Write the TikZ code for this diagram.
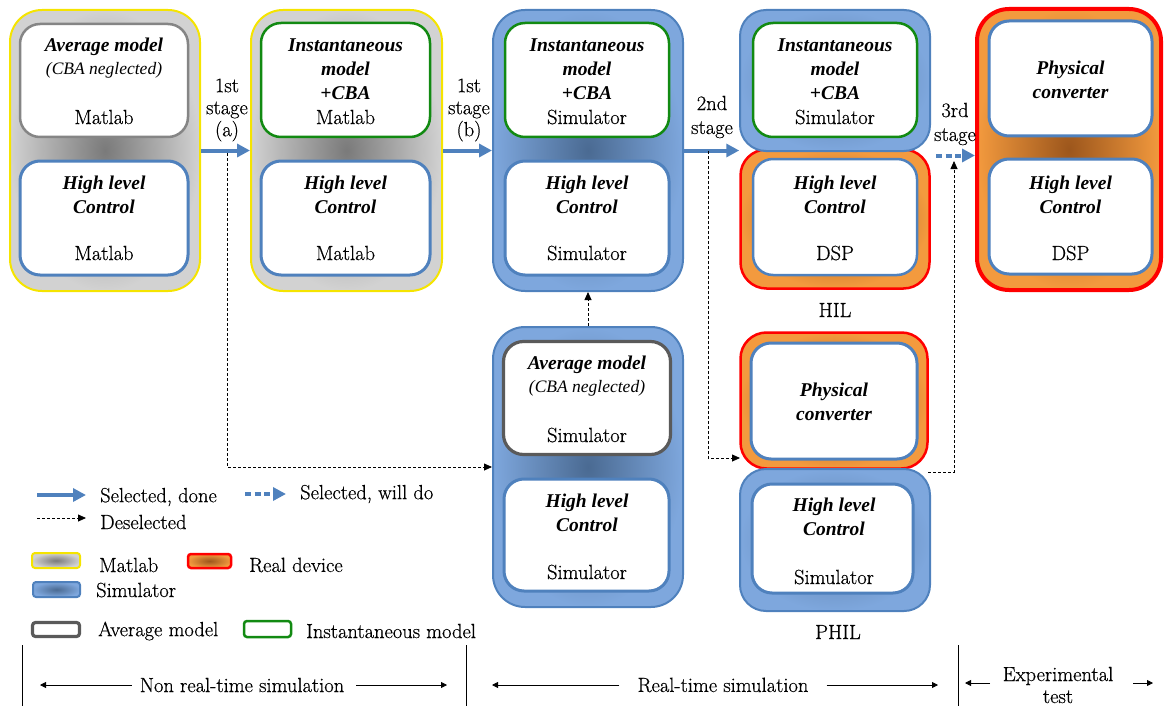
\documentclass[tikz,border=0pt]{standalone}
\usepackage{fontspec}
\usetikzlibrary{arrows.meta,calc}
\newfontfamily\tnr{Liberation Serif}
\newfontfamily\lmr{Latin Modern Roman}[FakeBold=0.5]
\definecolor{myyellow}{HTML}{F5E400}
\definecolor{mgrayc}{HTML}{7A7A7A}
\definecolor{mgraye}{HTML}{D2D2D2}
\definecolor{sblue}{HTML}{4F81BD}
\definecolor{sbluec}{HTML}{4A6A92}
\definecolor{sbluee}{HTML}{7EA7DD}
\definecolor{orc}{HTML}{9C561C}
\definecolor{ore}{HTML}{F39A3E}
\definecolor{mygreen}{HTML}{128A12}
\definecolor{agray}{HTML}{5A5A5A}
\definecolor{agrayl}{HTML}{858585}
\newcommand\bitxt{\tnr\bfseries\itshape\fontsize{19.5}{24}\selectfont}
\newcommand\ittxt{\tnr\itshape\fontsize{17.5}{20}\selectfont}
\newcommand\rgtxt{\lmr\fontsize{20.5}{22}\selectfont}
\newcommand\rgtxtw{\lmr\fontsize{20.5}{24}\selectfont}
\newcommand\lgtxt{\lmr\fontsize{20.5}{22}\selectfont}
\tikzset{
  grpbase/.style={inner sep=0pt, line width=2pt},
  matgrp/.style={grpbase, draw=myyellow, rounded corners=32pt, inner color=mgrayc, outer color=mgraye},
  simgrp/.style={grpbase, draw=sblue, rounded corners=32pt, inner color=sbluec, outer color=sbluee},
  simsub/.style={grpbase, draw=sblue, rounded corners=26pt, inner color=sbluec!70!sbluee, outer color=sbluee},
  realgrp/.style={grpbase, draw=red, line width=2.5pt, rounded corners=26pt, inner color=orc, outer color=ore},
  realbig/.style={grpbase, draw=red, line width=4pt, rounded corners=32pt, inner color=orc, outer color=ore},
  inbox/.style={inner sep=0pt, fill=white, line width=2.5pt, rounded corners=20pt},
  avgl/.style={inbox, draw=agrayl},
  avgd/.style={inbox, draw=agray, line width=3.2pt},
  inst/.style={inbox, draw=mygreen},
  ctrl/.style={inbox, draw=sblue, line width=3pt},
  bt/.style={font=\bitxt, align=center, inner sep=0pt},
  itt/.style={font=\ittxt, inner sep=0pt},
  rt/.style={font=\rgtxt, align=center, inner sep=0pt},
  rtw/.style={font=\rgtxtw, align=center, inner sep=0pt},
  lt/.style={font=\lgtxt, anchor=west, inner sep=0pt},
  sel/.style={draw=sblue, line width=4pt, -{Triangle[length=13pt,width=13pt]}},
  seldot/.style={draw=sblue, line width=4pt, dash pattern=on 6pt off 3.5pt, -{Triangle[length=13pt,width=13pt]}},
  desel/.style={draw=black, line width=0.8pt, dash pattern=on 3pt off 2pt, -{Triangle[length=8pt,width=7pt]}},
  axarr/.style={draw=black, line width=0.8pt, -{Triangle[length=6pt,width=6pt]}},
}
\begin{document}
\begin{tikzpicture}[x=1pt,y=-1pt]
\useasboundingbox (0,0) rectangle (1164,706);

% ---------- group 1: Matlab, average model
\node[matgrp, minimum width=190, minimum height=281] (g1) at (105,150.5) {};
\node[avgl, minimum width=168, minimum height=113] (g1a) at (104,80.5) {};
\node[ctrl, minimum width=168, minimum height=114] (g1b) at (104,218) {};
\node[bt] (t1a) at (104,47) {Average model};
\node[itt] (t1b) at (104,70) {(CBA neglected)};
\node[rt] (t1c) at (104,117) {Matlab};
\node[bt] (t1d) at (104,195) {High level\\Control};
\node[rt] (t1e) at (104,253) {Matlab};

% ---------- group 2: Matlab, instantaneous
\node[matgrp, minimum width=191, minimum height=281] (g2) at (346.5,150.5) {};
\node[inst, minimum width=169, minimum height=114] (g2a) at (345.5,80) {};
\node[ctrl, minimum width=169, minimum height=114] (g2b) at (345.5,218) {};
\node[bt] (t2a) at (345.5,69) {Instantaneous\\model\\+CBA};
\node[rt] (t2c) at (345.5,117) {Matlab};
\node[bt] (t2d) at (345.5,195) {High level\\Control};
\node[rt] (t2e) at (345.5,253) {Matlab};

% ---------- group 3: Simulator, instantaneous
\node[simgrp, minimum width=190, minimum height=281] (g3) at (588,150.5) {};
\node[inst, minimum width=164, minimum height=114] (g3a) at (587,80) {};
\node[ctrl, minimum width=164, minimum height=114] (g3b) at (587,218) {};
\node[bt] (t3a) at (587,69) {Instantaneous\\model\\+CBA};
\node[rt] (t3c) at (587,117) {Simulator};
\node[bt] (t3d) at (587,195) {High level\\Control};
\node[rt] (t3e) at (587,253) {Simulator};

% ---------- group 4: Simulator, average
\node[simgrp, minimum width=190, minimum height=280] (g4) at (588,467) {};
\node[avgd, minimum width=167, minimum height=113] (g4a) at (587,398) {};
\node[ctrl, minimum width=165, minimum height=112] (g4b) at (586.5,535) {};
\node[bt] (t4a) at (587,365) {Average model};
\node[itt] (t4b) at (587,388) {(CBA neglected)};
\node[rt] (t4c) at (587,435) {Simulator};
\node[bt] (t4d) at (587,513) {High level\\Control};
\node[rt] (t4e) at (587,572) {Simulator};

% ---------- HIL
\node[realgrp, minimum width=189, minimum height=139] (hilB) at (835,219) {};
\node[ctrl, minimum width=164, minimum height=116, line width=2.5pt] (hilBa) at (835,217) {};
\node[simsub, minimum width=190, minimum height=141] (hilT) at (835,80.5) {};
\node[inst, minimum width=164, minimum height=114] (hilTa) at (835,80) {};
\node[bt] (t5a) at (835,69) {Instantaneous\\model\\+CBA};
\node[rt] (t5c) at (835,117) {Simulator};
\node[bt] (t5d) at (835,195) {High level\\Control};
\node[rt] (t5e) at (835,253) {DSP};
\node[rt] (hil) at (835,310) {HIL};

% ---------- PHIL
\node[realgrp, minimum width=187, minimum height=136] (philT) at (834,400.5) {};
\node[ctrl, minimum width=166, minimum height=116] (philTa) at (834,401) {};
\node[simsub, minimum width=190, minimum height=142] (philB) at (835,540) {};
\node[ctrl, minimum width=161, minimum height=109] (philBa) at (832.5,538.5) {};
\node[bt] (t6a) at (834,402) {Physical\\converter};
\node[bt] (t6d) at (834,517) {High level\\Control};
\node[rt] (t6e) at (834,577) {Simulator};
\node[rt] (phil) at (838,632) {PHIL};

% ---------- group 7: physical converter
\node[realbig, minimum width=184, minimum height=281] (g7) at (1069,149.5) {};
\node[ctrl, minimum width=163, minimum height=115] (g7a) at (1070.5,78.5) {};
\node[ctrl, minimum width=163, minimum height=115] (g7b) at (1070.5,216.5) {};
\node[bt] (t7a) at (1070.5,80) {Physical\\converter};
\node[bt] (t7d) at (1070.5,195) {High level\\Control};
\node[rt] (t7e) at (1070.5,253) {DSP};

% ---------- stage arrows
\draw[sel] (g1.east) -- (g2.west);
\draw[sel] (g2.east) -- (g3.west);
\draw[sel] (g3.east) -- (g3.east -| hilB.west);
\coordinate (s3) at (936,155.5);
\draw[seldot] (s3) -- (s3 -| g7.west);
\node[rt] (st1) at (227,110) {1st\\stage\\(a)};
\node[rt] (st2) at (469,110) {1st\\stage\\(b)};
\node[rtw] (st3) at (712,117) {2nd\\stage};
\node[rtw] (st4) at (955,124) {3rd\\stage};

% ---------- deselected paths
\coordinate (d1) at (227,153);
\draw[desel] (d1) |- (g4.west);
\coordinate (d2) at (708,151);
\coordinate (d2e) at (740,458);
\draw[desel] (d2) |- (d2e);
\coordinate (d3s) at (928,472);
\coordinate (d3e) at (954,161);
\draw[desel] (d3s) -| (d3e);
\draw[desel] (g4.north) -- (g3.south);

% ---------- legend
\coordinate (la1) at (37,495); \coordinate (lb1) at (86,495);
\draw[sel] (la1) -- (lb1);
\node[lt] (lg1) at (100,497) {Selected, done};
\coordinate (la2) at (245,494); \coordinate (lb2) at (286,494);
\draw[seldot] (la2) -- (lb2);
\node[lt] (lg2) at (300,494) {Selected, will do};
\coordinate (la3) at (37,518); \coordinate (lb3) at (86,518);
\draw[desel] (la3) -- (lb3);
\node[lt] (lg3) at (100,522) {Deselected};
\node[matgrp, rounded corners=3pt, minimum width=48, minimum height=15] (sw1) at (56,560.5) {};
\node[lt] (lg4) at (99,565) {Matlab};
\node[realgrp, rounded corners=3pt, minimum width=43, minimum height=14] (sw2) at (209.5,561) {};
\node[lt] (lg5) at (249,565) {Real device};
\node[simgrp, rounded corners=3pt, minimum width=47, minimum height=15] (sw3) at (56.5,589.5) {};
\node[lt] (lg6) at (96,590) {Simulator};
\node[avgd, rounded corners=3pt, minimum width=47, minimum height=14] (sw4) at (56,629.5) {};
\node[lt] (lg7) at (98,631) {Average model};
\node[inst, rounded corners=3pt, minimum width=47, minimum height=16] (sw5) at (267.5,629) {};
\node[lt] (lg8) at (306,631) {Instantaneous model};

% ---------- bottom axis
\draw[line width=0.6pt] (22,645) -- (22,706);
\draw[line width=0.6pt] (466,645) -- (466,706);
\draw[line width=0.6pt] (958,645) -- (958,706);
\node[rt] (ax1) at (242,685) {Non real-time simulation};
\coordinate (ax1l) at (40,685); \coordinate (ax1r) at (447,685);
\draw[axarr] (ax1.west) ++(-8,0) -- (ax1l);
\draw[axarr] (ax1.east) ++(12,0) -- (ax1r);
\node[rt] (ax2) at (723,685) {Real-time simulation};
\coordinate (ax2l) at (492,685); \coordinate (ax2r) at (938,685);
\draw[axarr] (ax2.west) ++(-18,0) -- (ax2l);
\draw[axarr] (ax2.east) ++(18,0) -- (ax2r);
\node[rt] (ax3) at (1058,685) {Experimental\\test};
\coordinate (ax3l) at (965,683); \coordinate (ax3r) at (1153,683);
\coordinate (ax3a) at (990,683); \coordinate (ax3b) at (1133,683);
\draw[axarr] (ax3a) -- (ax3l);
\draw[axarr] (ax3b) -- (ax3r);
\end{tikzpicture}
\end{document}
